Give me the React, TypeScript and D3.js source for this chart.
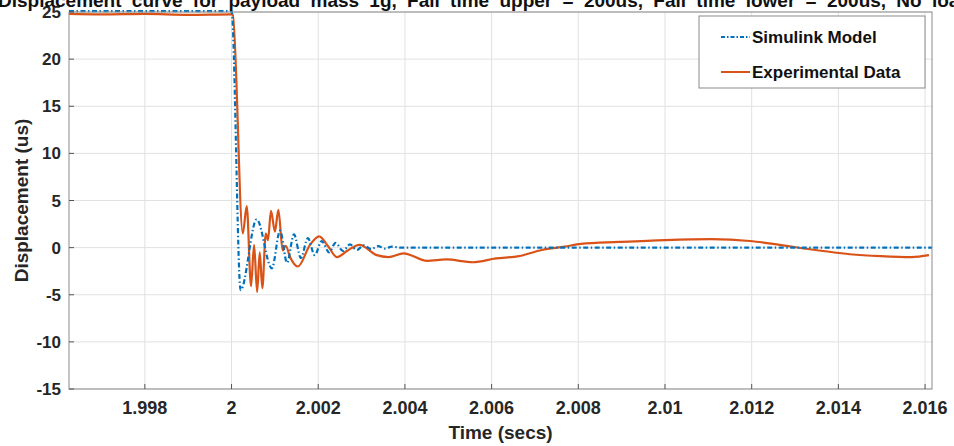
import React, { useEffect, useRef } from 'react';
import * as d3 from 'd3';

// Simulink model response (blue, dash-dot)
const simTime = [
  1.99625, 2.0, 2.00021, 2.00058, 2.00093, 2.00112, 2.00128, 2.00144, 2.0016, 2.00176,
  2.00192, 2.00208, 2.00225, 2.0024, 2.00257, 2.00273, 2.00289, 2.00305, 2.00322,
  2.00338, 2.00354, 2.0037, 2.0039, 2.01616,
];
const simDisp = [
  25.1, 25.1, -4.5, 3.0, -2.2, 1.8, -1.6, 1.4, -1.1, 1.0,
  -0.8, 0.7, -0.5, 0.5, -0.35, 0.35, -0.25, 0.25, -0.15,
  0.15, -0.1, 0.1, 0, 0,
];

// Experimental measurement (orange, solid)
const expTime = [
  1.99625, 1.997, 1.998, 1.999, 2.0, 2.00003, 2.00026, 2.00035, 2.00045, 2.00052,
  2.00059, 2.00065, 2.00071, 2.00079, 2.00084, 2.00091, 2.001, 2.00108, 2.00118,
  2.00125, 2.00135, 2.00153, 2.00181, 2.00202, 2.00222, 2.00243, 2.00268, 2.00295,
  2.00335, 2.00362, 2.00397, 2.00451, 2.00495, 2.00557, 2.0061, 2.00663, 2.00716,
  2.00769, 2.00806, 2.00894, 2.01, 2.01107, 2.01196, 2.01249, 2.01338, 2.01427,
  2.01498, 2.01569, 2.01609,
];
const expDisp = [
  24.8, 24.75, 24.8, 24.7, 24.75, 24.7, 1.5, 4.4, -4.1, 0.3,
  -4.7, -0.5, -4.3, 1.5, 0.8, 3.9, 1.7, 4.0, -0.3,
  0.2, -1.0, -2.0, 0.3, 1.2, 0.2, -1.0, -0.3, 0.3,
  -0.8, -1.0, -0.6, -1.4, -1.25, -1.55, -1.15, -0.9, -0.25,
  0.1, 0.4, 0.6, 0.8, 0.9, 0.7, 0.4, -0.2, -0.7,
  -0.9, -1.0, -0.8,
];

const xTicks = [1.998, 2.0, 2.002, 2.004, 2.006, 2.008, 2.01, 2.012, 2.014, 2.016];
const xTickLabels = ['1.998', '2', '2.002', '2.004', '2.006', '2.008', '2.01', '2.012', '2.014', '2.016'];
const yTicks = [-15, -10, -5, 0, 5, 10, 15, 20, 25];

const title = 'Displacement curve for payload mass 1g, Fall time upper = 200us, Fall time lower = 200us, No load';

function App() {
  const ref = useRef<SVGSVGElement>(null);

  useEffect(() => {
    const svg = d3.select(ref.current);
    svg.selectAll('*').remove();

    const width = 954;
    const height = 446;
    const margin = { top: 12, right: 22, bottom: 57, left: 69 };
    const font = '"Liberation Sans", Arial, sans-serif';

    const x = d3.scaleLinear().domain([1.99625, 2.01616]).range([margin.left, width - margin.right]);
    const y = d3.scaleLinear().domain([-15, 25]).range([height - margin.bottom, margin.top]);

    svg.append('rect').attr('width', width).attr('height', height).attr('fill', '#fff');

    // grid
    const grid = svg.append('g');
    grid.selectAll('line.gx').data(xTicks).join('line')
      .attr('x1', d => x(d)).attr('x2', d => x(d))
      .attr('y1', y(-15)).attr('y2', y(25))
      .attr('stroke', '#e1e1e1').attr('stroke-width', 1);
    grid.selectAll('line.gy').data(yTicks).join('line')
      .attr('y1', d => y(d)).attr('y2', d => y(d))
      .attr('x1', x.range()[0]).attr('x2', x.range()[1])
      .attr('stroke', '#e1e1e1').attr('stroke-width', 1);

    // data lines
    svg.append('clipPath').attr('id', 'plotclip')
      .append('rect')
      .attr('x', margin.left).attr('y', margin.top - 3)
      .attr('width', width - margin.left - margin.right)
      .attr('height', height - margin.top - margin.bottom + 3);

    const simPts: [number, number][] = simTime.map((t, i) => [x(t), y(simDisp[i])]);
    const expPts: [number, number][] = expTime.map((t, i) => [x(t), y(expDisp[i])]);
    const path = d3.line().curve(d3.curveMonotoneX);

    svg.append('path')
      .attr('d', path(expPts))
      .attr('fill', 'none')
      .attr('stroke', '#D95319')
      .attr('stroke-width', 2.2)
      .attr('clip-path', 'url(#plotclip)');

    svg.append('path')
      .attr('d', path(simPts))
      .attr('fill', 'none')
      .attr('stroke', '#0072BD')
      .attr('stroke-width', 2.2)
      .attr('stroke-dasharray', '5 2.5 1.5 2.5')
      .attr('clip-path', 'url(#plotclip)');

    // axes box
    const [x0, x1] = x.range();
    const [y0, y1] = y.range();
    svg.append('rect')
      .attr('x', x0).attr('y', y1)
      .attr('width', x1 - x0).attr('height', y0 - y1)
      .attr('fill', 'none').attr('stroke', '#8a8a8a').attr('stroke-width', 1);

    // ticks
    svg.selectAll('line.tx').data(xTicks).join('line')
      .attr('x1', d => x(d)).attr('x2', d => x(d))
      .attr('y1', y0).attr('y2', y0 - 5)
      .attr('stroke', '#555');
    svg.selectAll('line.ty').data(yTicks).join('line')
      .attr('y1', d => y(d)).attr('y2', d => y(d))
      .attr('x1', x0).attr('x2', x0 + 5)
      .attr('stroke', '#555');

    svg.selectAll('text.xt').data(xTicks).join('text')
      .attr('x', d => x(d)).attr('y', y0 + 25)
      .attr('text-anchor', 'middle')
      .attr('font-family', font).attr('font-weight', 'bold').attr('font-size', 18)
      .attr('fill', '#262626')
      .text((d, i) => xTickLabels[i]);

    svg.selectAll('text.yt').data(yTicks).join('text')
      .attr('x', x0 - 8).attr('y', d => y(d) + 6)
      .attr('text-anchor', 'end')
      .attr('font-family', font).attr('font-weight', 'bold').attr('font-size', 17)
      .attr('fill', '#262626')
      .text(d => String(d));

    // axis labels
    svg.append('text')
      .attr('x', (x0 + x1) / 2).attr('y', 439)
      .attr('text-anchor', 'middle')
      .attr('font-family', font).attr('font-weight', 'bold').attr('font-size', 19)
      .attr('fill', '#262626')
      .text('Time (secs)');

    svg.append('text')
      .attr('transform', `translate(28,${(y0 + y1) / 2}) rotate(-90)`)
      .attr('text-anchor', 'middle')
      .attr('font-family', font).attr('font-weight', 'bold').attr('font-size', 19)
      .attr('fill', '#262626')
      .text('Displacement (us)');

    // title (cut off at the top of the picture)
    svg.append('text')
      .attr('x', -2).attr('y', 7)
      .attr('font-family', font).attr('font-weight', 'bold').attr('font-size', 19)
      .attr('word-spacing', 5)
      .attr('fill', '#111')
      .text(title);

    // legend
    const lg = svg.append('g');
    lg.append('rect')
      .attr('x', 699).attr('y', 16).attr('width', 226).attr('height', 72)
      .attr('fill', '#fff').attr('stroke', '#8a8a8a');
    const entries = [
      { name: 'Simulink Model', color: '#0072BD', dash: '4 2 1.5 2', yy: 37 },
      { name: 'Experimental Data', color: '#D95319', dash: null, yy: 72 },
    ];
    entries.forEach(e => {
      lg.append('line')
        .attr('x1', 721).attr('x2', 750).attr('y1', e.yy).attr('y2', e.yy)
        .attr('stroke', e.color).attr('stroke-width', 2)
        .attr('stroke-dasharray', e.dash);
      lg.append('text')
        .attr('x', 752).attr('y', e.yy + 6)
        .attr('font-family', font).attr('font-weight', 'bold').attr('font-size', 17)
        .attr('fill', '#111')
        .text(e.name);
    });
  }, []);

  return (
    <svg ref={ref} width={954} height={446} style={{ display: 'block', position: 'absolute', left: 0, top: 0 }} />
  );
}

export default App;
